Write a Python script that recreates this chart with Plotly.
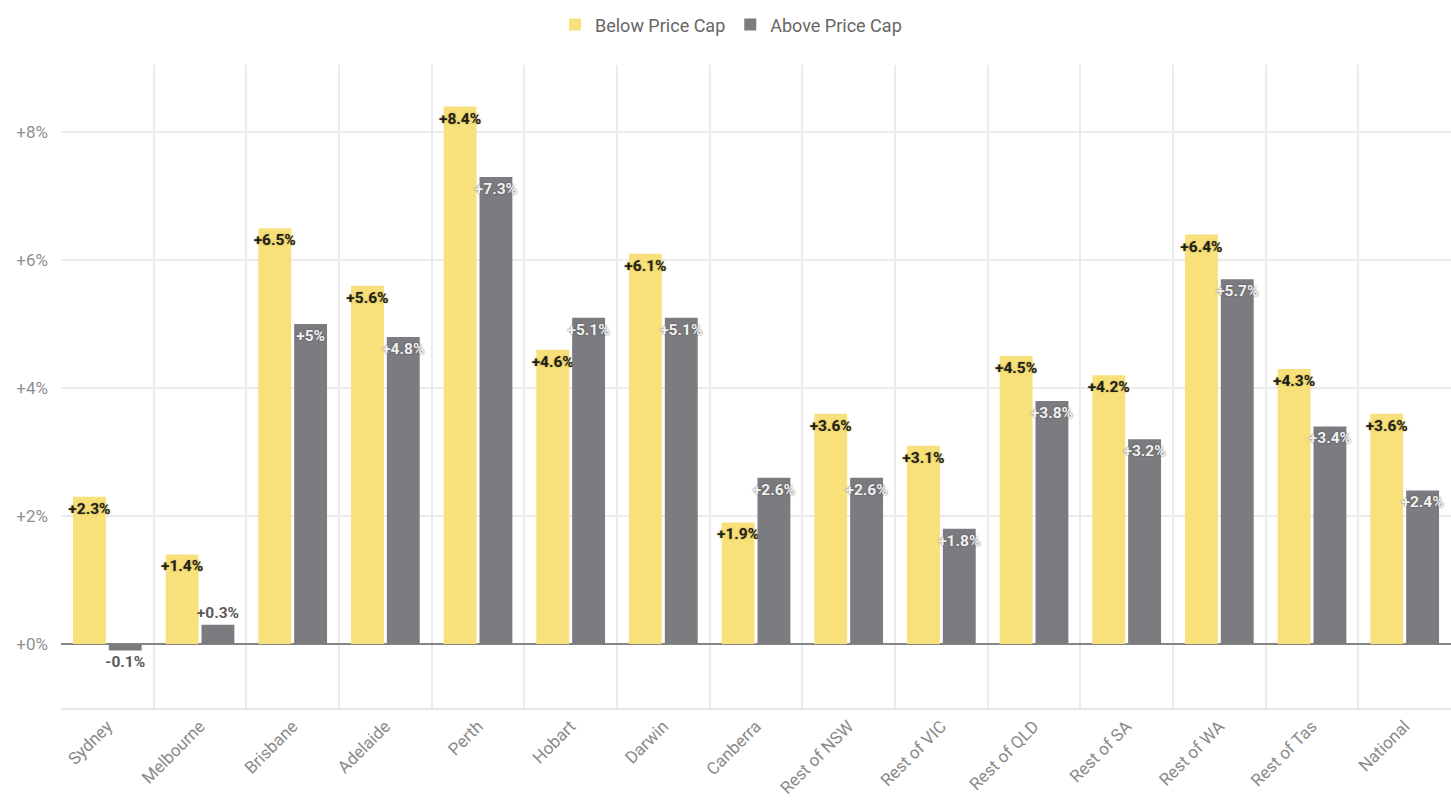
import plotly.graph_objects as go

# Regions and year-on-year price change (%) by offer type
regions = ["Sydney", "Melbourne", "Brisbane", "Adelaide", "Perth", "Hobart", "Darwin",
           "Canberra", "Rest of NSW", "Rest of VIC", "Rest of QLD", "Rest of SA",
           "Rest of WA", "Rest of Tas", "National"]
below_cap = [2.3, 1.4, 6.5, 5.6, 8.4, 4.6, 6.1, 1.9, 3.6, 3.1, 4.5, 4.2, 6.4, 4.3, 3.6]
above_cap = [-0.1, 0.3, 5.0, 4.8, 7.3, 5.1, 5.1, 2.6, 2.6, 1.8, 3.8, 3.2, 5.7, 3.4, 2.4]

YELLOW = "#F8E07A"
GREY = "#7C7C80"
FONT = "Roboto"


def fmt(v):
    return f"{v:+g}%"


def positions(vals):
    # short bars can't hold their label, so it goes outside
    return ["inside" if abs(v) >= 0.5 else "outside" for v in vals]


fig = go.Figure()
fig.add_trace(go.Bar(
    name="Below Price Cap", x=regions, y=below_cap, marker_color=YELLOW,
    marker_line_width=0,
    text=[fmt(v) for v in below_cap], textposition=positions(below_cap),
    insidetextanchor="end", constraintext="none", textangle=0, cliponaxis=False,
    insidetextfont=dict(family=FONT, size=15.5, color="#1e1e1e", weight="bold",
                        shadow="0px 0px 2px #b9a23a"),
    outsidetextfont=dict(family=FONT, size=15.5, color="#555555", weight="bold"),
))
fig.add_trace(go.Bar(
    name="Above Price Cap", x=regions, y=above_cap, marker_color=GREY,
    marker_line_width=0,
    text=[fmt(v) for v in above_cap], textposition=positions(above_cap),
    insidetextanchor="end", constraintext="none", textangle=0, cliponaxis=False,
    insidetextfont=dict(family=FONT, size=15.5, color="#f2f2f2", weight="bold",
                        shadow="0px 0px 2px #4a4a4a"),
    outsidetextfont=dict(family=FONT, size=15.5, color="#5a5a5a", weight="bold"),
))

fig.update_layout(
    width=1451, height=802,
    margin=dict(l=61, r=0, t=65, b=94),
    paper_bgcolor="white", plot_bgcolor="white",
    barmode="group", bargap=0.226, bargroupgap=0.083,
    font=dict(family=FONT, color="#888888"),
    legend=dict(orientation="h", x=0.482, xanchor="center", y=0.992, yanchor="top",
                yref="container", font=dict(family=FONT, size=18, color="#666666"),
                itemwidth=30, traceorder="normal"),
    showlegend=True,
)

fig.update_xaxes(
    type="category", tickson="boundaries", ticks="",
    showgrid=True, gridcolor="#ebebeb", gridwidth=1.5,
    showline=True, linecolor="#e6e6e6", linewidth=1.5,
    tickangle=-45, tickfont=dict(family=FONT, size=17, color="#8a8a8a"),
    fixedrange=True,
)
fig.update_yaxes(
    range=[-1.0, 9.05], tick0=0, dtick=2, tickformat="+d", ticksuffix="%",
    showgrid=True, gridcolor="#ebebeb", gridwidth=1.5,
    zeroline=True, zerolinecolor="#858585", zerolinewidth=1.5,
    tickfont=dict(family=FONT, size=17, color="#8f8f8f"),
    ticklabelstandoff=12, showline=False,
)

fig.write_html("out.html")
